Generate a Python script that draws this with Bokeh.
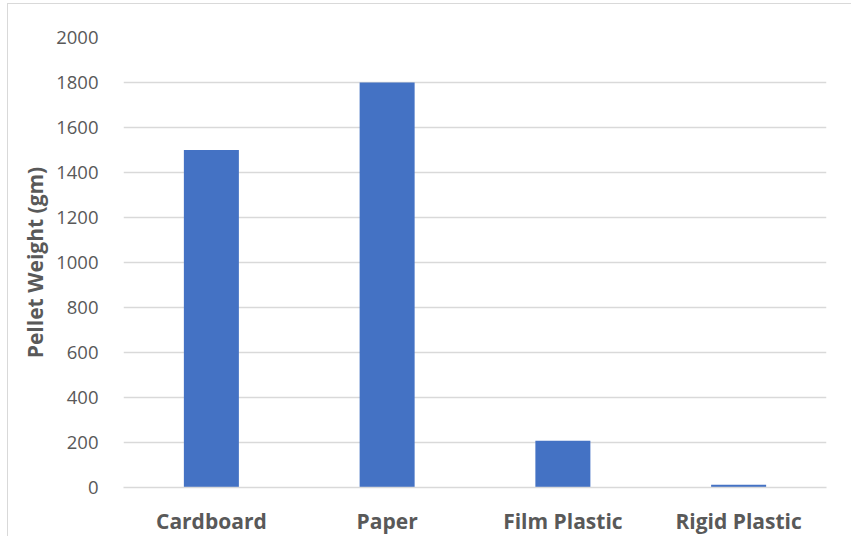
from bokeh.plotting import figure
from bokeh.embed import file_html
from bokeh.resources import INLINE
from bokeh.models import FixedTicker, ColumnDataSource

# Pellet weight per material
materials = ["Cardboard", "Paper", "Film Plastic", "Rigid Plastic"]
pellet_weight = [1500, 1800, 208, 12]
y_ticks = [0, 200, 400, 600, 800, 1000, 1200, 1400, 1600, 1800, 2000]

src = ColumnDataSource(data=dict(material=materials, weight=pellet_weight))

p = figure(
    x_range=materials,
    y_range=(0, 2000),
    width=844,
    height=533,
    output_backend="svg",
    toolbar_location=None,
    min_border_left=115,
    min_border_right=26,
    min_border_top=33,
    min_border_bottom=30,
)
p.margin = (3, 0, 0, 7)
p.styles = {"border-left": "1px solid #d9d9d9", "border-top": "1px solid #d9d9d9"}

p.vbar(x="material", top="weight", width=0.313, source=src,
       fill_color="#4472C4", line_color=None)

p.outline_line_color = None
p.background_fill_color = "white"
p.border_fill_color = "white"

# grid
p.xgrid.grid_line_color = None
p.ygrid.grid_line_color = "#d9d9d9"
p.ygrid.grid_line_width = 1.5
p.yaxis.ticker = FixedTicker(ticks=y_ticks)

# y axis
p.yaxis.axis_line_color = None
p.yaxis.major_tick_line_color = None
p.yaxis.minor_tick_line_color = None
p.yaxis.major_label_text_font = "Open Sans"
p.yaxis.major_label_text_font_size = "18.5px"
p.yaxis.major_label_text_color = "#595959"
p.yaxis.major_label_standoff = 19
p.yaxis.axis_label = "Pellet Weight (gm)"
p.yaxis.axis_label_text_font = "Open Sans"
p.yaxis.axis_label_text_font_style = "bold"
p.yaxis.axis_label_text_font_size = "21px"
p.yaxis.axis_label_text_color = "#595959"
p.yaxis.axis_label_standoff = 4

# x axis
p.xaxis.axis_line_color = "#d9d9d9"
p.xaxis.axis_line_width = 1.5
p.xaxis.major_tick_line_color = None
p.xaxis.minor_tick_line_color = None
p.xaxis.major_label_text_font = "Open Sans"
p.xaxis.major_label_text_font_style = "bold"
p.xaxis.major_label_text_font_size = "21px"
p.xaxis.major_label_text_color = "#595959"
p.xaxis.major_label_standoff = 13

open("out.html", "w").write(file_html(p, INLINE))
